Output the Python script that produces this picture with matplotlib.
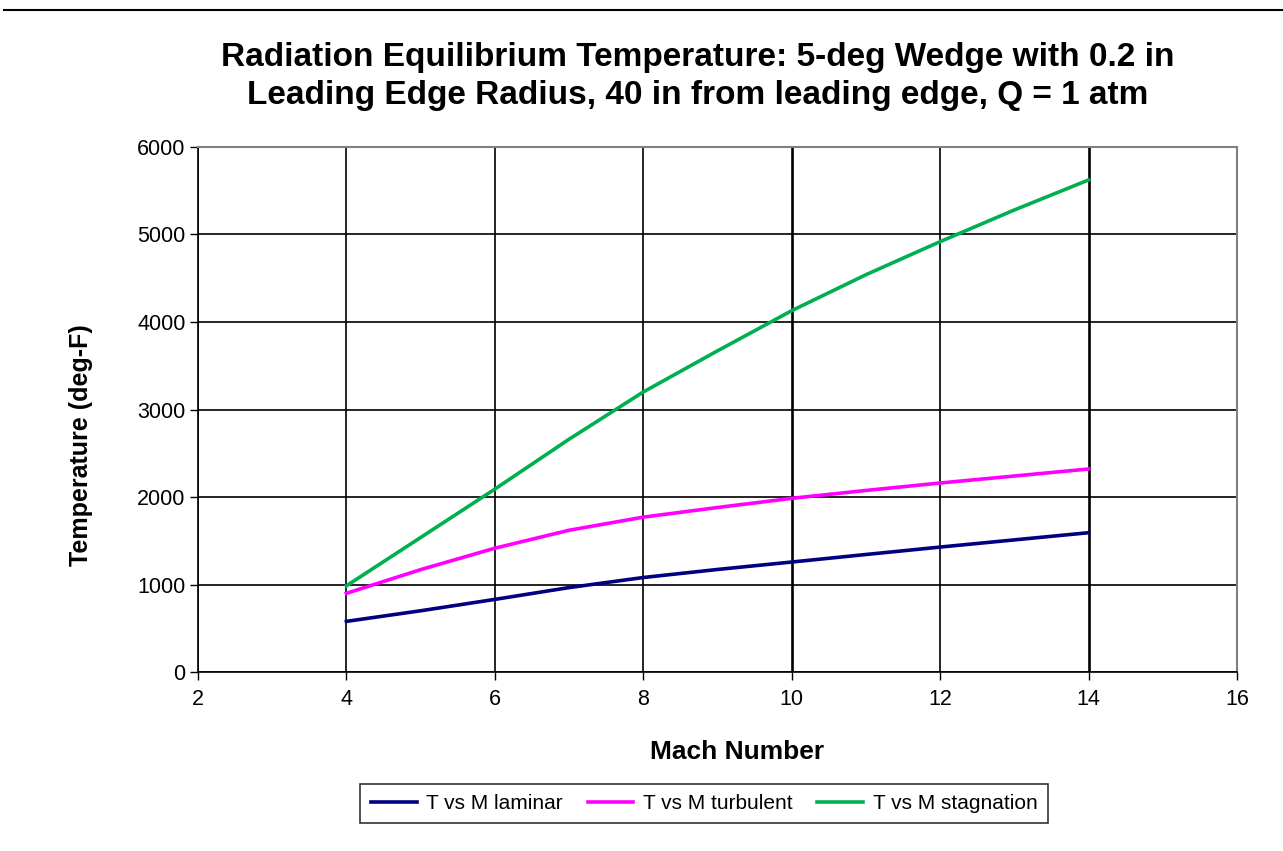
import matplotlib.pyplot as plt
from matplotlib.lines import Line2D

plt.rcParams['font.family'] = ['Liberation Sans', 'DejaVu Sans']

mach = [4, 5, 6, 7, 8, 9, 10, 11, 12, 13, 14]
t_laminar = [579, 700, 830, 965, 1080, 1172, 1257, 1343, 1428, 1510, 1592]
t_turbulent = [899, 1170, 1415, 1620, 1770, 1880, 1985, 2075, 2160, 2240, 2320]
t_stagnation = [985, 1537, 2090, 2660, 3200, 3670, 4129, 4540, 4918, 5280, 5623]

x_ticks = [2, 4, 6, 8, 10, 12, 14, 16]
y_ticks = [0, 1000, 2000, 3000, 4000, 5000, 6000]

fig = plt.figure(figsize=(12.83, 8.51), dpi=100)
ax = fig.add_axes([0.1543, 0.2103, 0.8098, 0.6170])

ax.plot(mach, t_laminar, color='#000080', linewidth=2.6, label='T vs M laminar')
ax.plot(mach, t_turbulent, color='#ff00ff', linewidth=2.6, label='T vs M turbulent')
ax.plot(mach, t_stagnation, color='#00b050', linewidth=2.6, label='T vs M stagnation')

ax.set_xlim(2, 16)
ax.set_ylim(0, 6000)
ax.set_xticks(x_ticks)
ax.set_yticks(y_ticks)
ax.grid(True, color='black', linewidth=1.2)
ax.set_axisbelow(True)
# the 10 and 14 gridlines render heavier in the original
for i, t in enumerate(x_ticks):
    if t in (10, 14):
        ax.get_xgridlines()[i].set_linewidth(1.9)
ax.tick_params(direction='out', length=6, width=1, labelsize=15.5)
ax.tick_params(axis='y', pad=3)
ax.tick_params(axis='x', pad=6)

for side in ['top', 'right']:
    ax.spines[side].set_color('#808080')
    ax.spines[side].set_linewidth(1.5)
for side in ['left', 'bottom']:
    ax.spines[side].set_color('black')
    ax.spines[side].set_linewidth(1.2)

ax.set_xlabel('Mach Number', fontsize=19, fontweight='bold')
ax.xaxis.set_label_coords(0.519, -0.130)
ax.set_ylabel('Temperature (deg-F)', fontsize=18, fontweight='bold')
ax.yaxis.set_label_coords(-0.101, 0.432)

fig.text(0.5437, 0.910, 'Radiation Equilibrium Temperature: 5-deg Wedge with 0.2 in\n'
         'Leading Edge Radius, 40 in from leading edge, Q = 1 atm',
         ha='center', va='center', fontsize=24, fontweight='bold', linespacing=1.3)

leg = fig.legend(loc='center', bbox_to_anchor=(0.5487, 0.0558), ncol=3,
                 fontsize=15, frameon=True, fancybox=False, handlelength=2.2,
                 handletextpad=0.45, columnspacing=1.2, borderpad=0.5)
leg.get_frame().set_edgecolor('black')
leg.get_frame().set_linewidth(1.2)

# rule across the top of the page
fig.add_artist(Line2D([0.003, 1.0], [0.988, 0.988], color='black', linewidth=1.5,
                      transform=fig.transFigure))

fig.savefig('out.png', dpi=100)
